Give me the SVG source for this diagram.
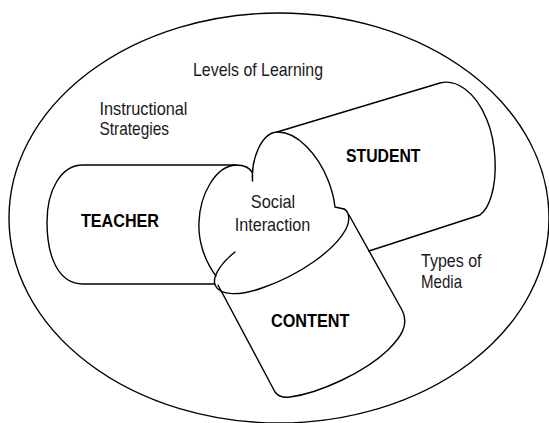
<svg xmlns="http://www.w3.org/2000/svg" width="549" height="423" viewBox="0 0 549 423">
<style>
.ln{fill:none;stroke:#000;stroke-width:1.4;stroke-linecap:round;stroke-linejoin:round}
.t{font-family:"Liberation Sans",Arial,sans-serif;font-size:19px;fill:#1a1a1a}
.b{font-family:"Liberation Sans",Arial,sans-serif;font-size:19px;font-weight:bold;fill:#000}
</style>
<rect width="549" height="423" fill="#fff"/>
<g id="levels-of-learning">
<ellipse class="ln" cx="279" cy="218" rx="270" ry="205"/>
<text class="t" x="193" y="76" textLength="130" lengthAdjust="spacingAndGlyphs">Levels of Learning</text>
</g>
<g id="instructional-strategies">
<text class="t" x="99.5" y="115" textLength="88" lengthAdjust="spacingAndGlyphs">Instructional</text>
<text class="t" x="99.5" y="135" textLength="69.5" lengthAdjust="spacingAndGlyphs">Strategies</text>
</g>
<g id="types-of-media">
<text class="t" x="421" y="266.7" textLength="60.5" lengthAdjust="spacingAndGlyphs">Types of</text>
<text class="t" x="421" y="287.7" textLength="41" lengthAdjust="spacingAndGlyphs">Media</text>
</g>
<g id="teacher">
<path class="ln" d="M235,165 L83,165 C61,165 47,190 47,222 C47,256 58,284 83,284 L215,284"/>
<text class="b" x="81" y="227.3" textLength="78" lengthAdjust="spacingAndGlyphs">TEACHER</text>
</g>
<g id="student">
<path class="ln" d="M277,132 L440,83 C455,79 475,90 487,120 C496,142 498,175 491,197 C488,207 484,212 480,215 L369,251"/>
<text class="b" x="346" y="162.3" textLength="74.5" lengthAdjust="spacingAndGlyphs">STUDENT</text>
</g>
<g id="content">
<path class="ln" d="M344,209 C350,212 350,222 346,229 C335,250 300,275 262,288 C240,296 220,296 215,285 C212,276 222,262 235,252"/>
<path class="ln" d="M218,285 L275,392 C278,396 282,398 290,397 C320,393 365,372 388,350 C400,338 410,325 402,310 L349,215"/>
<text class="b" x="271" y="327.3" textLength="78.5" lengthAdjust="spacingAndGlyphs">CONTENT</text>
</g>
<g id="social-interaction">
<path class="ln" d="M216,276 C204,260 198,240 199,222 C200,195 215,166 236,165 C244,165 250,168 252.5,173 L252.5,181 C251,160 261,133 277,132 C297,131 318,155 328,180 C332,190 334,198 335,207 L344,209"/>
<text class="t" x="273" y="208.3" text-anchor="middle" textLength="44.5" lengthAdjust="spacingAndGlyphs">Social</text>
<text class="t" x="272.5" y="230.5" text-anchor="middle" textLength="75.5" lengthAdjust="spacingAndGlyphs">Interaction</text>
</g>
<g id="connectors"/>
</svg>
